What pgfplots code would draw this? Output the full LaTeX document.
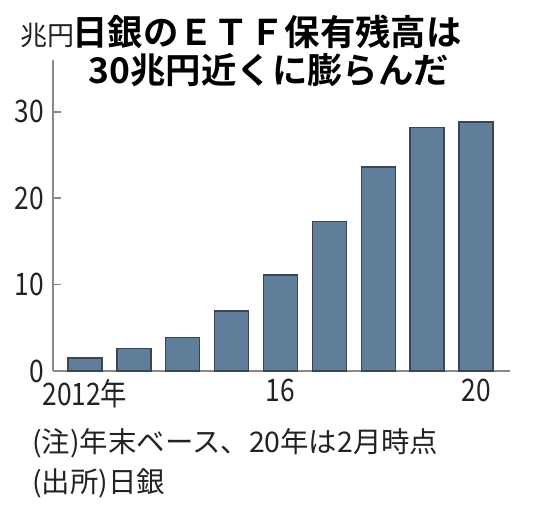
\documentclass[border=0pt]{standalone}
\usepackage{fontspec}
\usepackage{pgfplots}
\pgfplotsset{compat=1.18}
\setmainfont{Noto Sans CJK JP}
\newfontfamily\cjkb{Noto Sans CJK JP Bold}
\newfontfamily\narrow[FakeStretch=0.85]{Noto Sans CJK JP}
\definecolor{barblue}{HTML}{5F7E99}
\definecolor{baredge}{HTML}{3A4654}
\definecolor{axgray}{HTML}{8A8A8A}
\definecolor{txt}{HTML}{222222}

\begin{document}
\begin{tikzpicture}
\useasboundingbox (0pt,0pt) rectangle (271pt,252.5pt);
\begin{axis}[
    at={(26.5pt,67pt)}, anchor=origin,
    scale only axis,
    width=228.5pt, height=155.5pt,
    xmin=2011.35, xmax=2020.69,
    ymin=0, ymax=36,
    axis x line*=bottom, axis y line*=left,
    axis line style={axgray, line width=0.9pt, -},
    xtick={2012,2016,2020},
    xticklabels={2012年,16,20},
    x tick style={draw=none},
    ytick={0,10,20,30},
    y tick style={axgray, line width=0.8pt},
    tick align=inside,
    major tick length=4pt,
    ticklabel style={font=\narrow\fontsize{15.5}{16}\selectfont, text=txt},
    xticklabel style={yshift=-0.5pt},
    yticklabel style={xshift=-1pt},
    /pgf/number format/assume math mode=true,
    clip=false,
]
\addplot[ybar, bar width=17pt, fill=barblue, draw=baredge, line width=0.8pt]
  coordinates {
    (2012,1.5) (2013,2.6) (2014,3.9) (2015,6.95) (2016,11.1)
    (2017,17.3) (2018,23.6) (2019,28.2) (2020,28.8)
  };
\end{axis}
\node[text=txt, font=\fontsize{13.5}{14}\selectfont] at (23.75pt,235pt) {兆円};
\node[text=black, font=\cjkb\fontsize{17.7}{20}\selectfont] at (133.5pt,236.5pt) {日銀のＥＴＦ保有残高は};
\node[text=black, font=\cjkb\fontsize{17.7}{20}\selectfont] at (134.5pt,217.5pt) {30兆円近くに膨らんだ};
\node[text=txt, anchor=west, font=\fontsize{14.2}{15}\selectfont, inner sep=0pt] at (16pt,31pt) {(注)年末ベース、20年は2月時点};
\node[text=txt, anchor=west, font=\fontsize{14.2}{15}\selectfont, inner sep=0pt] at (16pt,11pt) {(出所)日銀};
\end{tikzpicture}
\end{document}
